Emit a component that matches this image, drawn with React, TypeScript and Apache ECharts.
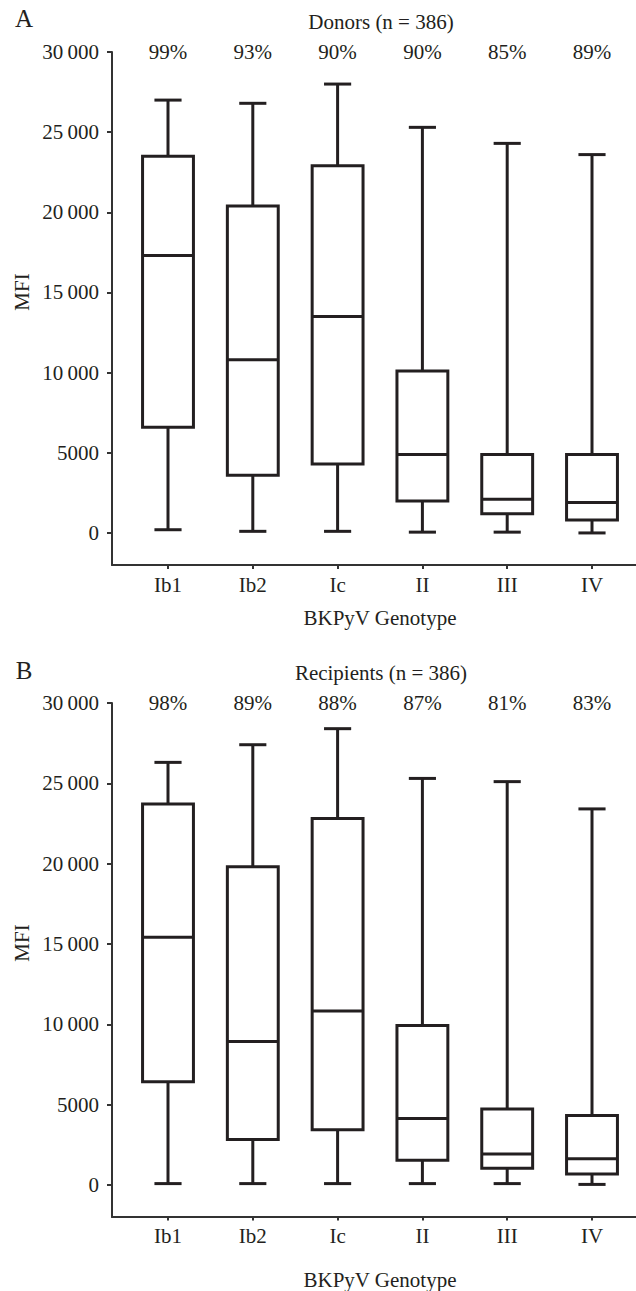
import React, { useEffect, useRef } from "react";
import * as echarts from "echarts";

const genotypes = ["Ib1", "Ib2", "Ic", "II", "III", "IV"];
const yTickValues = [0, 5000, 10000, 15000, 20000, 25000, 30000];
const yTickLabels = ["0", "5000", "10\u2009000", "15\u2009000", "20\u2009000", "25\u2009000", "30\u2009000"];

// [min, Q1, median, Q3, max]
const donorsIb1 = [200, 6600, 17300, 23500, 27000];
const donorsIb2 = [100, 3600, 10800, 20400, 26800];
const donorsIc = [100, 4300, 13500, 22900, 28000];
const donorsII = [50, 2000, 4900, 10100, 25300];
const donorsIII = [50, 1200, 2100, 4900, 24300];
const donorsIV = [0, 800, 1900, 4900, 23600];
const donorsPct = ["99%", "93%", "90%", "90%", "85%", "89%"];

const recipIb1 = [50, 6400, 15400, 23700, 26300];
const recipIb2 = [50, 2800, 8900, 19800, 27400];
const recipIc = [50, 3400, 10800, 22800, 28400];
const recipII = [50, 1500, 4100, 9900, 25300];
const recipIII = [50, 1000, 1900, 4700, 25100];
const recipIV = [0, 650, 1600, 4300, 23400];
const recipPct = ["98%", "89%", "88%", "87%", "81%", "83%"];

const donors = [donorsIb1, donorsIb2, donorsIc, donorsII, donorsIII, donorsIV];
const recips = [recipIb1, recipIb2, recipIc, recipII, recipIII, recipIV];

const FONT = "'Liberation Serif', 'Times New Roman', serif";
const INK = "#231f20";
const AXIS = "#333333";

export default function App() {
  const ref = useRef<HTMLDivElement>(null);
  useEffect(() => {
    if (!ref.current) return;
    const chart = echarts.init(ref.current, undefined, { renderer: "svg" });

    const panels = [
      { top: 52, height: 513, stats: donors, pct: donorsPct, nameGap: 53 },
      { top: 703, height: 514, stats: recips, pct: recipPct, nameGap: 63 },
    ];

    const grid: any[] = [];
    const xAxis: any[] = [];
    const yAxis: any[] = [];
    const series: any[] = [];

    panels.forEach((p, pi) => {
      const frameIdx = pi * 2;
      const mainIdx = pi * 2 + 1;
      grid.push({ left: 112, right: 0, top: p.top, height: p.height });
      grid.push({ left: 125.6, right: 1.6, top: p.top, height: p.height });

      // frame axes
      xAxis.push({
        type: "value",
        gridIndex: frameIdx,
        min: 0,
        max: 1,
        position: "bottom",
        axisLine: { show: true, onZero: false, lineStyle: { color: AXIS, width: 2 } },
        axisTick: { show: false },
        axisLabel: { show: false },
        splitLine: { show: false },
      });
      yAxis.push({
        type: "value",
        gridIndex: frameIdx,
        min: -2000,
        max: 30000,
        axisLine: { show: true, onZero: false, lineStyle: { color: AXIS, width: 2 } },
        axisTick: { show: true, length: 5, customValues: yTickValues, lineStyle: { color: AXIS, width: 2 } },
        axisLabel: {
          show: true,
          customValues: yTickValues,
          margin: 13,
          formatter: (v: number) => yTickLabels[yTickValues.indexOf(v)] ?? "",
          fontFamily: FONT,
          fontSize: 21,
          color: INK,
        },
        splitLine: { show: false },
      });

      // main axes
      xAxis.push({
        type: "category",
        gridIndex: mainIdx,
        data: genotypes,
        boundaryGap: true,
        position: "bottom",
        axisLine: { show: false, onZero: false },
        axisTick: { show: true, alignWithLabel: true, length: 4, lineStyle: { color: AXIS, width: 2 } },
        axisLabel: { margin: 9, fontFamily: FONT, fontSize: 21, color: INK },
        name: "BKPyV Genotype",
        nameLocation: "middle",
        nameGap: p.nameGap,
        nameTextStyle: { fontFamily: FONT, fontSize: 21, color: INK, verticalAlign: "middle" },
      });
      yAxis.push({
        type: "value",
        gridIndex: mainIdx,
        min: -2000,
        max: 30000,
        show: false,
      });

      series.push({
        type: "custom",
        xAxisIndex: mainIdx,
        yAxisIndex: mainIdx,
        clip: false,
        data: p.stats.map((s, i) => [i, ...s]),
        encode: { x: 0, y: [1, 2, 3, 4, 5] },
        renderItem: (params: any, api: any) => {
          const i = api.value(0);
          const vmin = api.value(1);
          const q1 = api.value(2);
          const med = api.value(3);
          const q3 = api.value(4);
          const vmax = api.value(5);
          const band = api.size([1, 0])[0];
          const boxHalf = band * 0.3;
          const capHalf = band * 0.16;
          const pMin = api.coord([i, vmin]);
          const pQ1 = api.coord([i, q1]);
          const pMed = api.coord([i, med]);
          const pQ3 = api.coord([i, q3]);
          const pMax = api.coord([i, vmax]);
          const cx = pMed[0];
          const st = { stroke: INK, lineWidth: 3, fill: null };
          return {
            type: "group",
            children: [
              { type: "line", shape: { x1: cx, y1: pQ3[1], x2: cx, y2: pMax[1] }, style: st },
              { type: "line", shape: { x1: cx, y1: pQ1[1], x2: cx, y2: pMin[1] }, style: st },
              { type: "line", shape: { x1: cx - capHalf, y1: pMax[1], x2: cx + capHalf, y2: pMax[1] }, style: st },
              { type: "line", shape: { x1: cx - capHalf, y1: pMin[1], x2: cx + capHalf, y2: pMin[1] }, style: st },
              {
                type: "rect",
                shape: { x: cx - boxHalf, y: pQ3[1], width: boxHalf * 2, height: pQ1[1] - pQ3[1] },
                style: { stroke: INK, lineWidth: 3, fill: "#ffffff" },
              },
              { type: "line", shape: { x1: cx - boxHalf, y1: pMed[1], x2: cx + boxHalf, y2: pMed[1] }, style: st },
            ],
          };
        },
      });

      series.push({
        type: "custom",
        xAxisIndex: mainIdx,
        yAxisIndex: mainIdx,
        clip: false,
        data: p.pct.map((t, i) => [i, 30000]),
        encode: { x: 0, y: 1 },
        renderItem: (params: any, api: any) => {
          const pt = api.coord([api.value(0), api.value(1)]);
          return {
            type: "text",
            style: {
              x: pt[0],
              y: pt[1],
              text: p.pct[params.dataIndex],
              align: "center",
              verticalAlign: "middle",
              fontFamily: FONT,
              fontSize: 21,
              fill: INK,
            },
          };
        },
      });
    });

    const textStyle = (t: string, size: number) => ({ text: t, fontFamily: FONT, fontSize: size, fill: INK });

    chart.setOption({
      animation: false,
      backgroundColor: "#ffffff",
      grid,
      xAxis,
      yAxis,
      series,
      graphic: [
        { type: "text", x: 24, y: 18, style: { ...textStyle("A", 25), align: "center", verticalAlign: "middle" } },
        { type: "text", x: 381, y: 22, style: { ...textStyle("Donors (n = 386)", 21), align: "center", verticalAlign: "middle" } },
        { type: "text", x: 22, y: 292, rotation: Math.PI / 2, style: { ...textStyle("MFI", 21), align: "center", verticalAlign: "middle" } },
        { type: "text", x: 24, y: 670, style: { ...textStyle("B", 25), align: "center", verticalAlign: "middle" } },
        { type: "text", x: 381, y: 673, style: { ...textStyle("Recipients (n = 386)", 21), align: "center", verticalAlign: "middle" } },
        { type: "text", x: 22, y: 943, rotation: Math.PI / 2, style: { ...textStyle("MFI", 21), align: "center", verticalAlign: "middle" } },
      ],
    });
    return () => chart.dispose();
  }, []);
  return <div ref={ref} style={{ position: "fixed", left: 0, top: 0, width: 636, height: 1291, background: "#fff" }} />;
}
